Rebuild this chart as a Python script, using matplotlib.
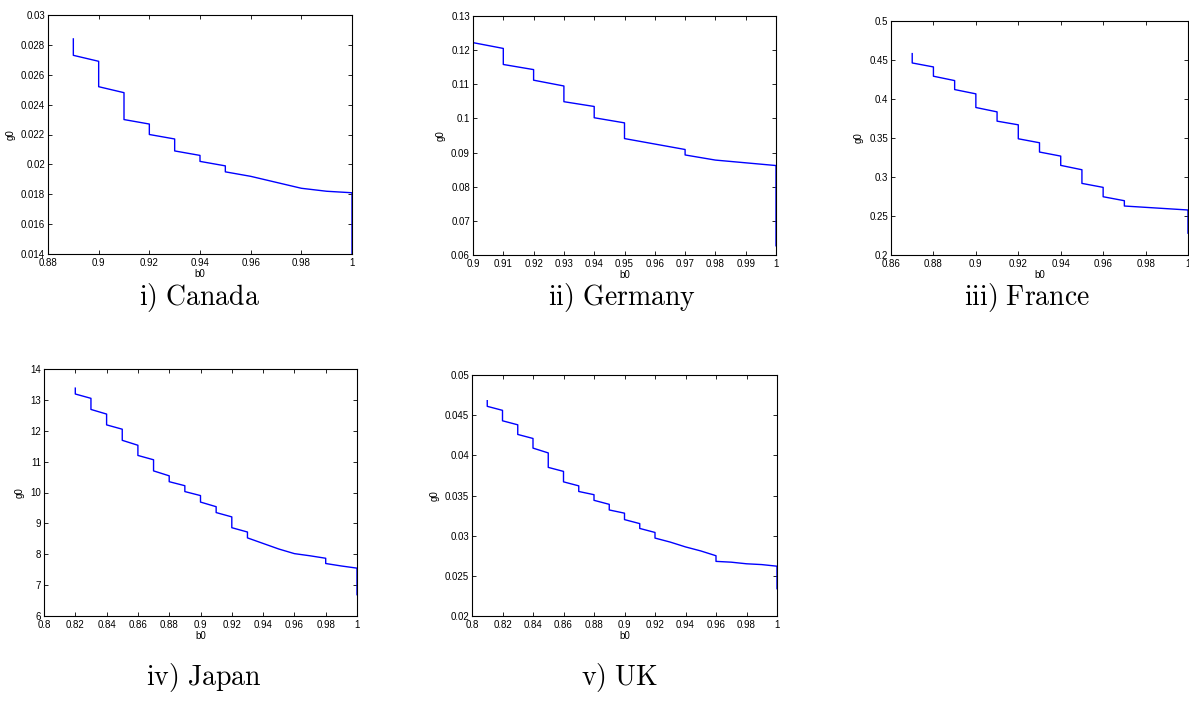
import matplotlib
matplotlib.use("Agg")
import matplotlib.pyplot as plt
from matplotlib.ticker import MultipleLocator

plt.rcParams['font.family'] = ['Liberation Sans', 'DejaVu Sans']
plt.rcParams['mathtext.fontset'] = 'cm'

# ---- data ----
canada_b0 = [0.89, 0.89, 0.90, 0.90, 0.91, 0.91, 0.92, 0.92, 0.93, 0.93, 0.94, 0.94,
             0.95, 0.95, 0.96, 0.97, 0.98, 0.99, 1.00, 1.00]
canada_g0 = [0.0284, 0.0273, 0.0269, 0.0252, 0.0248, 0.0230, 0.0227, 0.0220, 0.0217, 0.0209,
             0.0206, 0.0202, 0.0199, 0.0195, 0.0192, 0.0188, 0.0184, 0.0182, 0.0181, 0.0140]

germany_b0 = [0.90, 0.90, 0.91, 0.91, 0.92, 0.92, 0.93, 0.93, 0.94, 0.94, 0.95, 0.95,
              0.96, 0.97, 0.97, 0.98, 0.99, 1.00, 1.00]
germany_g0 = [0.1253, 0.1222, 0.1205, 0.1158, 0.1143, 0.1112, 0.1095, 0.1049, 0.1035, 0.1002,
              0.0987, 0.0941, 0.0925, 0.0909, 0.0893, 0.0878, 0.0870, 0.0862, 0.0627]

france_b0 = [0.87, 0.87, 0.88, 0.88, 0.89, 0.89, 0.90, 0.90, 0.91, 0.91, 0.92, 0.92,
             0.93, 0.93, 0.94, 0.94, 0.95, 0.95, 0.96, 0.96, 0.97, 0.97, 0.98, 0.99, 1.00, 1.00]
france_g0 = [0.4582, 0.4462, 0.4411, 0.4292, 0.4236, 0.4121, 0.4066, 0.3891, 0.3835, 0.3716,
             0.3669, 0.3490, 0.3439, 0.3320, 0.3268, 0.3149, 0.3093, 0.2918, 0.2867, 0.2747,
             0.2696, 0.2628, 0.2611, 0.2594, 0.2577, 0.2280]

japan_b0 = [0.82, 0.82, 0.83, 0.83, 0.84, 0.84, 0.85, 0.85, 0.86, 0.86, 0.87, 0.87,
            0.88, 0.88, 0.89, 0.89, 0.90, 0.90, 0.91, 0.91, 0.92, 0.92, 0.93, 0.93,
            0.94, 0.95, 0.96, 0.97, 0.98, 0.98, 0.99, 1.00, 1.00]
japan_g0 = [13.38, 13.19, 13.05, 12.69, 12.54, 12.19, 12.05, 11.69, 11.53, 11.20, 11.06, 10.70,
            10.54, 10.35, 10.22, 10.03, 9.90, 9.69, 9.54, 9.35, 9.21, 8.86, 8.72, 8.53,
            8.35, 8.17, 8.02, 7.95, 7.87, 7.70, 7.62, 7.55, 6.69]

uk_b0 = [0.81, 0.81, 0.82, 0.82, 0.83, 0.83, 0.84, 0.84, 0.85, 0.85, 0.86, 0.86,
         0.87, 0.87, 0.88, 0.88, 0.89, 0.89, 0.90, 0.90, 0.91, 0.91, 0.92, 0.92,
         0.93, 0.94, 0.95, 0.96, 0.96, 0.97, 0.98, 0.99, 1.00, 1.00]
uk_g0 = [0.0468, 0.0461, 0.0456, 0.0443, 0.0438, 0.0426, 0.0421, 0.0409, 0.0403, 0.0385,
         0.0380, 0.0367, 0.0362, 0.0355, 0.0351, 0.0344, 0.0339, 0.0332, 0.0328, 0.0320,
         0.0315, 0.0309, 0.0304, 0.0297, 0.0292, 0.0286, 0.0281, 0.0275, 0.0268, 0.0267,
         0.0265, 0.0264, 0.0262, 0.0234]

captions = ["i) Canada", "ii) Germany", "iii) France", "iv) Japan", "v) UK"]

W, H = 1189, 702
fig = plt.figure(figsize=(W / 100, H / 100), dpi=100)


def px_axes(l, r, t, b):
    return fig.add_axes([l / W, 1 - b / H, (r - l) / W, (b - t) / H])


panels = [
    dict(box=(48, 352, 15, 254), x=canada_b0, y=canada_g0, xlim=(0.88, 1.0), ylim=(0.014, 0.03),
         xt=0.02, yt=0.002, cap=(200, 298)),
    dict(box=(473, 776, 16, 255), x=germany_b0, y=germany_g0, xlim=(0.9, 1.0), ylim=(0.06, 0.13),
         xt=0.01, yt=0.01, cap=(622, 298)),
    dict(box=(891, 1188, 21, 255), x=france_b0, y=france_g0, xlim=(0.86, 1.0), ylim=(0.2, 0.5),
         xt=0.02, yt=0.05, cap=(1027, 298)),
    dict(box=(44, 357, 369, 616), x=japan_b0, y=japan_g0, xlim=(0.8, 1.0), ylim=(6, 14),
         xt=0.02, yt=1, cap=(204, 678)),
    dict(box=(472, 777, 375, 616), x=uk_b0, y=uk_g0, xlim=(0.8, 1.0), ylim=(0.02, 0.05),
         xt=0.02, yt=0.005, cap=(619, 678)),
]


def fmt(v, pos=None):
    s = ("%.4f" % v).rstrip('0').rstrip('.')
    return s


for p, cap in zip(panels, captions):
    ax = px_axes(*p['box'])
    ax.plot(p['x'], p['y'], color='#0000ff', lw=1.0)
    ax.set_xlim(*p['xlim'])
    ax.set_ylim(*p['ylim'])
    ax.xaxis.set_major_locator(MultipleLocator(p['xt']))
    ax.yaxis.set_major_locator(MultipleLocator(p['yt']))
    ax.xaxis.set_major_formatter(fmt)
    ax.yaxis.set_major_formatter(fmt)
    ax.tick_params(direction='in', top=True, right=True, length=3, width=0.6,
                   labelsize=7, colors='black')
    ax.tick_params(axis='x', pad=3.2)
    ax.tick_params(axis='y', pad=2.2)
    for s in ax.spines.values():
        s.set_linewidth(0.8)
    ax.set_xlabel('b0', fontsize=7, labelpad=0.5)
    ax.set_ylabel('g0', fontsize=7, labelpad=4)
    cx, cy = p['cap']
    fig.text(cx / W, 1 - cy / H, r'$\mathrm{' + cap.replace(' ', r'\ ') + '}$',
             ha='center', va='center', fontsize=20)

fig.savefig('out.png', dpi=100)
